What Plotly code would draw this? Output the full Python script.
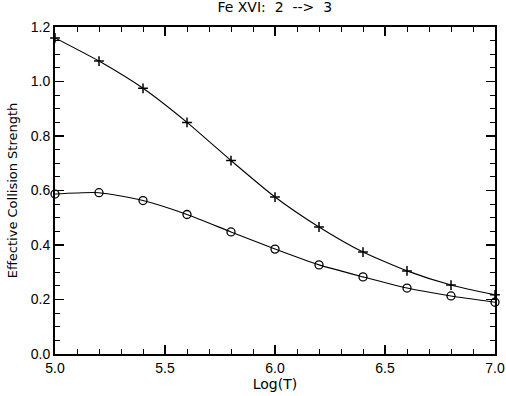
import plotly.graph_objects as go

log_t = [5.0, 5.2, 5.4, 5.6, 5.8, 6.0, 6.2, 6.4, 6.6, 6.8, 7.0]
plus_series = [1.16, 1.075, 0.975, 0.85, 0.71, 0.576, 0.466, 0.374, 0.305, 0.253, 0.217]
circle_series = [0.587, 0.592, 0.563, 0.512, 0.448, 0.385, 0.327, 0.283, 0.242, 0.213, 0.19]
x_ticks = [5.0, 5.5, 6.0, 6.5, 7.0]
x_labels = ["5.0", "5.5", "6.0", "6.5", "7.0"]
y_ticks = [0.0, 0.2, 0.4, 0.6, 0.8, 1.0, 1.2]
y_labels = ["0.0", "0.2", "0.4", "0.6", "0.8", "1.0", "1.2"]

fig = go.Figure()
fig.add_trace(go.Scatter(
    x=log_t, y=plus_series, mode="lines+markers",
    line=dict(color="black", width=1.1, shape="spline", smoothing=0.6),
    marker=dict(symbol="cross-thin", size=7, line=dict(color="black", width=1.5)),
    cliponaxis=False,
))
fig.add_trace(go.Scatter(
    x=log_t, y=circle_series, mode="lines+markers",
    line=dict(color="black", width=1.1, shape="spline", smoothing=0.6),
    marker=dict(symbol="circle-open", size=8, color="black", line=dict(color="black", width=1.3)),
    cliponaxis=False,
))

tick_font = dict(family="Liberation Sans, Arial, sans-serif", size=14, color="black")
fig.update_layout(
    template="none",
    width=506, height=396,
    margin=dict(l=55, r=11, t=27, b=42, autoexpand=False),
    paper_bgcolor="white", plot_bgcolor="white",
    showlegend=False,
    font=dict(family="DejaVu Sans, sans-serif", size=13, color="black"),
    title=dict(text="Fe XVI:\u00a0 2 \u00a0--> \u00a03", x=0.543, xanchor="center", y=0.995, yanchor="top",
               font=dict(family="DejaVu Sans, sans-serif", size=14, color="black")),
)
fig.update_xaxes(
    range=[5.0, 7.0], tickmode="array", tickvals=x_ticks, ticktext=x_labels, tickfont=tick_font,
    ticks="inside", ticklen=9, tickwidth=1.2, tickcolor="black",
    minor=dict(ticks="inside", ticklen=5, tickwidth=1, tickcolor="black", dtick=0.1, showgrid=False),
    showline=True, linecolor="black", linewidth=2, mirror="allticks",
    showgrid=False, zeroline=False, automargin=False,
    title=dict(text="Log(T)", standoff=0, font=dict(family="DejaVu Sans, sans-serif", size=14)),
)
fig.update_yaxes(
    range=[0.0, 1.2], tickmode="array", tickvals=y_ticks, ticktext=y_labels, tickfont=tick_font,
    ticks="inside", ticklen=9, tickwidth=1.2, tickcolor="black",
    minor=dict(ticks="inside", ticklen=5, tickwidth=1, tickcolor="black", dtick=0.05, showgrid=False),
    showline=True, linecolor="black", linewidth=2, mirror="allticks",
    showgrid=False, zeroline=False, automargin=False,
    title=dict(text="Effective Collision Strength", standoff=10,
               font=dict(family="DejaVu Sans, sans-serif", size=13)),
)

fig.write_html("out.html", config={"displayModeBar": False, "staticPlot": True},
               post_script="document.body.style.margin='0';document.body.style.padding='0';")
